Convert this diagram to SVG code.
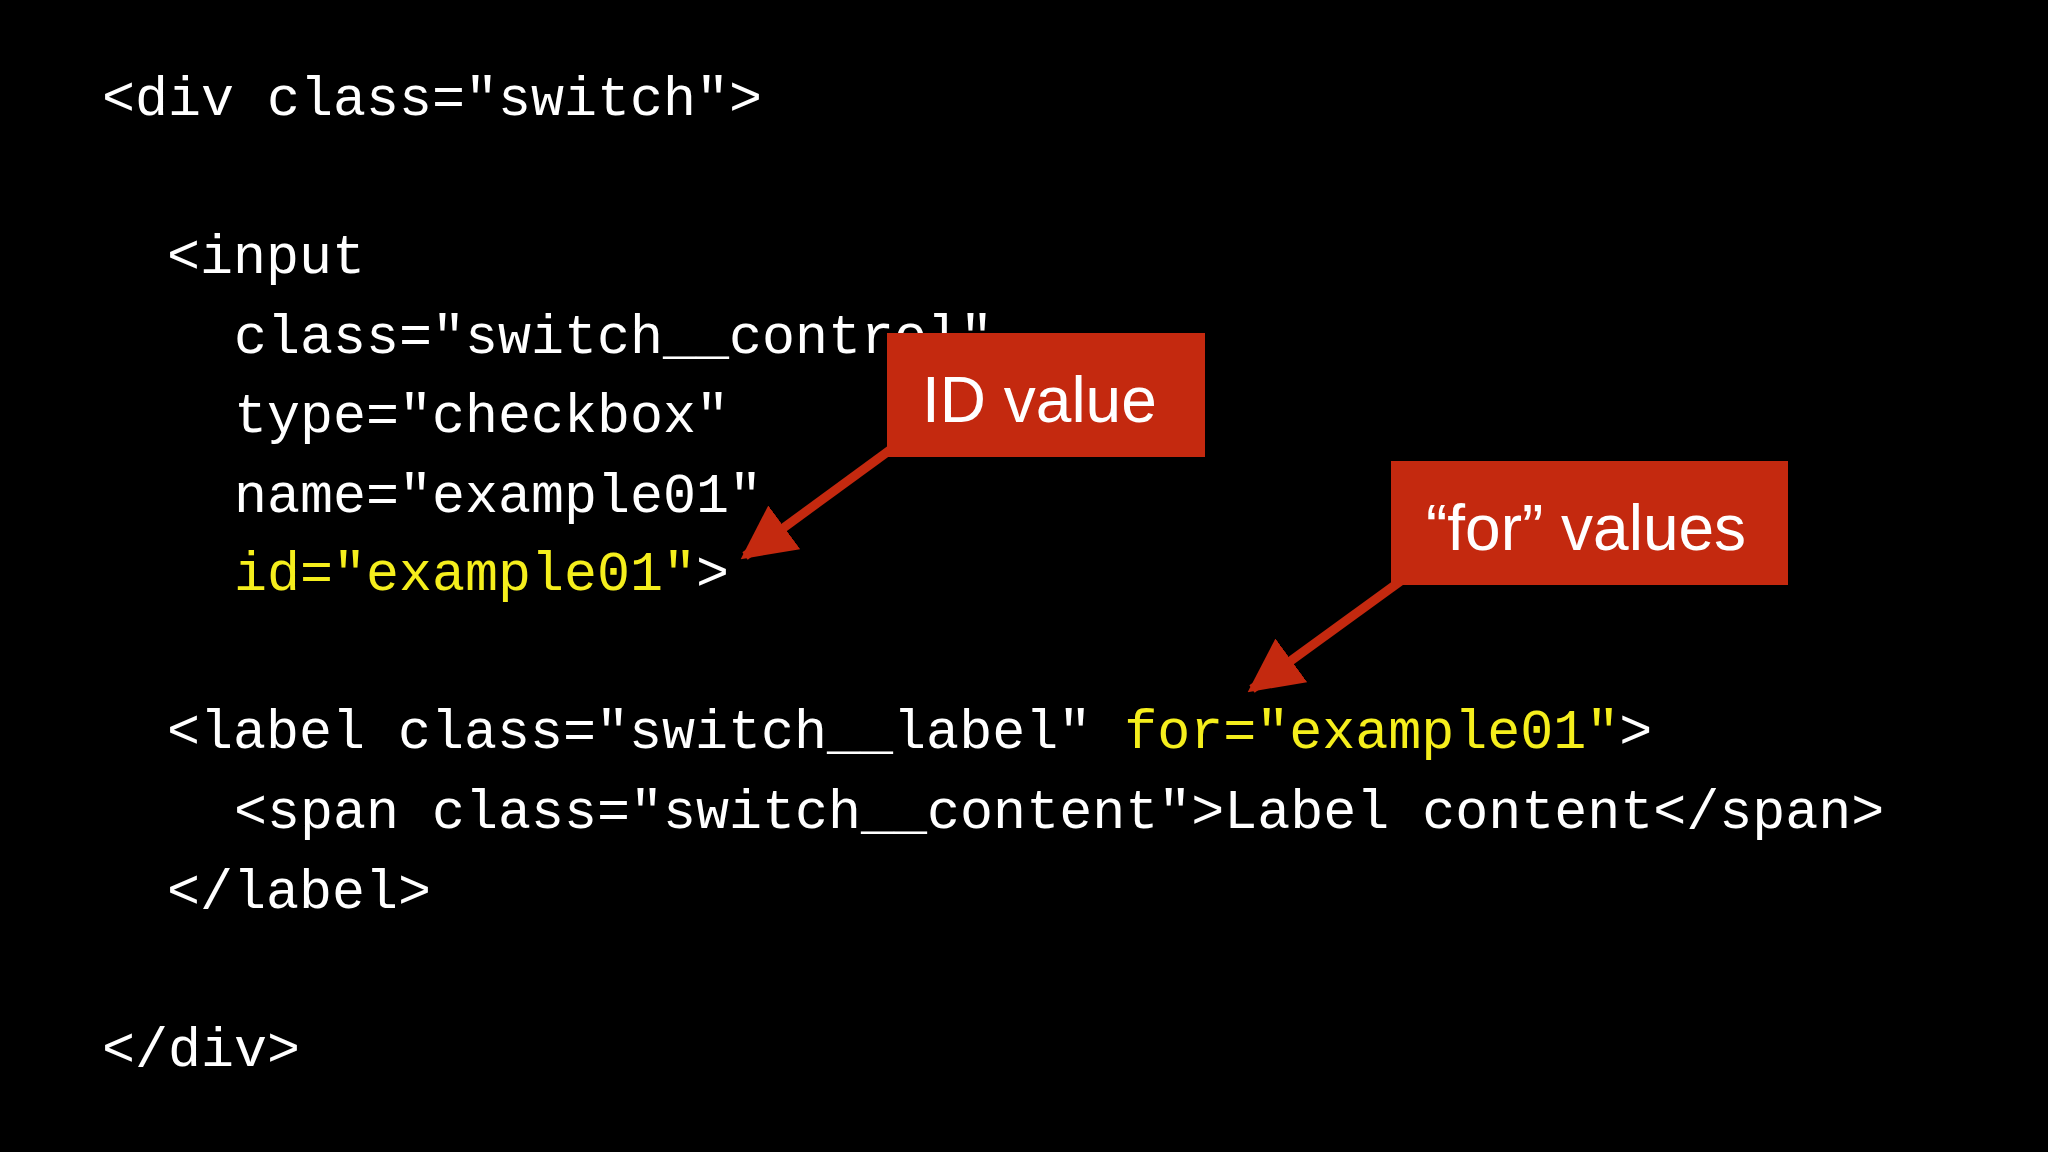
<svg xmlns="http://www.w3.org/2000/svg" width="2048" height="1152" viewBox="0 0 2048 1152">
<defs>
<style>
.code{font-family:"Liberation Mono","DejaVu Sans Mono",monospace;font-size:55px;fill:#ffffff;white-space:pre}
.hl{fill:#f5ee1c}
.lbl{font-family:"Liberation Sans",Arial,sans-serif;font-size:64px;fill:#ffffff}
.box{fill:#c4290f}
.arr{stroke:#c4290f;stroke-width:9;fill:none}
</style>
<marker id="ah" viewBox="0 0 10 10" refX="9" refY="5" markerWidth="6" markerHeight="6" orient="auto" markerUnits="strokeWidth">
<path d="M0,0 L10,5 L0,10 z" fill="#c4290f"/>
</marker>
</defs>
<rect width="2048" height="1152" fill="#000"/>
<g id="code">
<text class="code" x="102" y="115">&lt;div class="switch"&gt;</text>
<text class="code" x="167" y="273">&lt;input</text>
<text class="code" x="234" y="353">class="switch__control"</text>
<text class="code" x="234" y="432">type="checkbox"</text>
<text class="code" x="234" y="512">name="example01"</text>
<text class="code" x="234" y="590"><tspan class="hl">id="example01"</tspan>&gt;</text>
<text class="code" x="167" y="748">&lt;label class="switch__label" <tspan class="hl">for="example01"</tspan>&gt;</text>
<text class="code" x="234" y="828">&lt;span class="switch__content"&gt;Label content&lt;/span&gt;</text>
<text class="code" x="167" y="908">&lt;/label&gt;</text>
<text class="code" x="102" y="1066">&lt;/div&gt;</text>
</g>
<g id="connectors">
<line class="arr" x1="890" y1="450" x2="745" y2="556" marker-end="url(#ah)"/>
<line class="arr" x1="1402" y1="580" x2="1252" y2="689" marker-end="url(#ah)"/>
</g>
<g id="id-value">
<rect class="box" x="887" y="333" width="318" height="124"/>
<text class="lbl" x="922" y="422">ID value</text>
</g>
<g id="for-values">
<rect class="box" x="1391" y="461" width="397" height="124"/>
<text class="lbl" x="1426" y="550">“for” values</text>
</g>
</svg>
